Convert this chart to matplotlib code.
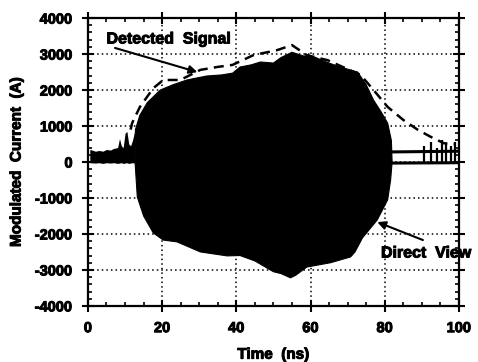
import matplotlib.pyplot as plt
import matplotlib.patheffects as pe
from matplotlib.ticker import MultipleLocator

plt.rcParams['font.family'] = ['Liberation Sans', 'DejaVu Sans']
plt.rcParams['font.weight'] = 'bold'
plt.rcParams['axes.unicode_minus'] = False

# direct view envelope (filled black burst)
upper_t = [12.7, 12.8, 14, 16, 19.5, 23, 26.7, 32, 36, 39, 41, 44, 46.5, 50, 52, 55,
           58, 61, 65, 68, 72.7, 75, 77, 79, 80.8, 81.8, 82]
upper_v = [0, 900, 1300, 1650, 2000, 2150, 2280, 2390, 2420, 2470, 2640, 2700, 2780,
           2750, 2900, 3050, 2950, 2920, 2750, 2640, 2500, 2150, 1720, 1400, 1080, 600, 0]
lower_t = [82, 81.6, 80.8, 78, 74, 72, 70.8, 65.4, 59, 56, 54.6, 52, 50, 45, 41, 37.5,
           30.3, 24, 20.3, 17.6, 15, 13.3, 12.7]
lower_v = [0, -500, -1050, -1610, -2110, -2500, -2640, -2800, -2920, -3150, -3220, -3100,
           -3050, -2750, -2600, -2610, -2500, -2220, -2170, -1970, -1500, -970, 0]

# detected signal (dashed)
det_t = [11.5, 11.9, 14, 17.6, 20.3, 24.9, 30.3, 34.8, 39, 44.6, 51, 55, 59, 64.6,
         73.5, 77, 80.8, 85, 89, 92.4, 96, 99]
det_v = [900, 1080, 1530, 2050, 2280, 2280, 2560, 2640, 2700, 2970, 3110, 3250, 2970,
         2830, 2420, 2000, 1530, 1170, 890, 700, 520, 500]

# baseline before the burst
pre_t = [0.5, 2, 3, 4, 5, 6, 7, 8, 8.5, 9, 9.5, 10, 10.5, 11, 11.5, 12, 12.7]
pre_hi = [350, 300, 320, 300, 350, 330, 380, 400, 650, 450, 400, 800, 850, 500, 450, 600, 900]
pre_lo = [-20, -30, -20, -40, -20, -30, -20, -40, -30, -20, -40, -30, -20, -40, -30, -20, -30]

# baseline after the burst
post_t = [82, 100]
post_hi = [280, 300]
post_lo = [-30, -20]
spike_t = [90.5, 92.5, 94, 95.5, 96.5, 98, 99]
spike_v = [450, 550, 400, 600, 500, 450, 550]

heavy = [pe.withStroke(linewidth=0.7, foreground='black')]

fig = plt.figure(figsize=(4.78, 3.62), dpi=100)
ax = fig.add_axes([0.184, 0.155, 0.776, 0.795])

ax.fill(upper_t + lower_t, upper_v + lower_v, color='black', lw=0.8, zorder=3)
ax.fill_between(pre_t, pre_lo, pre_hi, color='black', lw=0, zorder=3)
ax.plot(post_t, post_hi, color='black', lw=2.2, zorder=3)
ax.plot(post_t, post_lo, color='black', lw=2.2, zorder=3)
ax.vlines(spike_t, -20, spike_v, color='black', lw=1.6, zorder=3)
ax.plot(det_t, det_v, color='black', lw=1.8, ls=(0, (4, 2.5)), zorder=4)

ax.set_xlim(0, 100)
ax.set_ylim(-4000, 4000)
ax.xaxis.set_major_locator(MultipleLocator(20))
ax.xaxis.set_minor_locator(MultipleLocator(5))
ax.yaxis.set_major_locator(MultipleLocator(1000))
ax.yaxis.set_minor_locator(MultipleLocator(200))
ax.grid(True, which='major', color='black', ls=(0, (1, 2)), lw=1.1)
ax.tick_params(which='major', direction='inout', length=8, width=1.5,
               top=True, right=True, labelsize=10.5, pad=7)
ax.tick_params(which='minor', direction='in', length=3, width=1.2, top=True, right=True)
for s in ax.spines.values():
    s.set_linewidth(1.6)
for lab in ax.get_xticklabels() + ax.get_yticklabels():
    lab.set_fontweight('bold')
    lab.set_path_effects(heavy)

ax.set_xlabel('Time  (ns)', fontsize=11, fontweight='bold', labelpad=9,
              path_effects=heavy)
ax.set_ylabel('Modulated  Current  (A)', fontsize=11, fontweight='bold', labelpad=8,
              path_effects=heavy)

ax.annotate('', xy=(29.5, 2500), xytext=(7.3, 3170),
            arrowprops=dict(arrowstyle='-|>', color='black', lw=1.5,
                            shrinkA=0, shrinkB=0, mutation_scale=12))
ax.text(5, 3420, 'Detected  Signal', fontsize=11.5, fontweight='bold', va='center',
        path_effects=heavy)
ax.annotate('', xy=(78, -1670), xytext=(90.3, -2170),
            arrowprops=dict(arrowstyle='-|>', color='black', lw=1.5,
                            shrinkA=0, shrinkB=0, mutation_scale=12))
ax.text(79, -2530, 'Direct  View', fontsize=11.5, fontweight='bold', va='center',
        clip_on=False, path_effects=heavy)

fig.savefig('out.png', dpi=100)
